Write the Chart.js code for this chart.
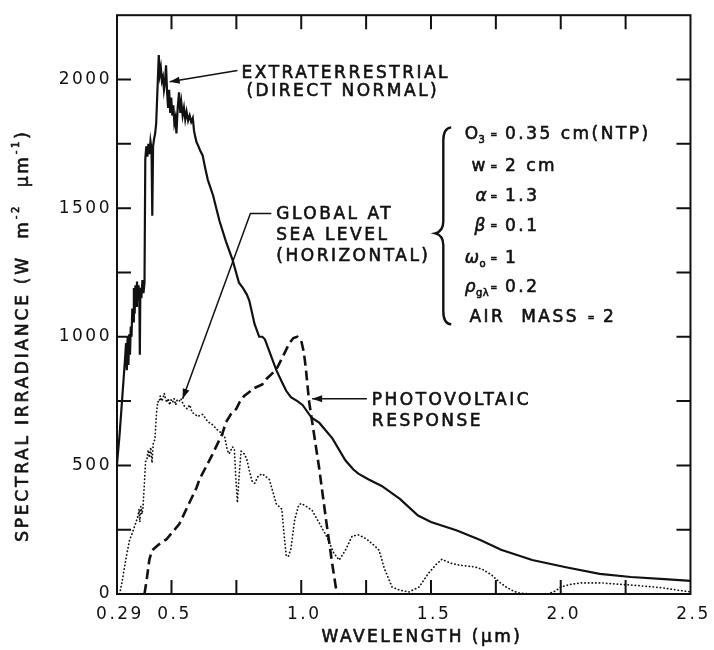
<!DOCTYPE html>
<html>
<head>
<meta charset="utf-8">
<script src="https://cdn.jsdelivr.net/npm/chart.js@4.4.0/dist/chart.umd.min.js"></script>
<style>
  html, body { margin: 0; padding: 0; background: #fff; }
  canvas { display: block; }
</style>
</head>
<body>
<canvas id="chart" width="714" height="650"></canvas>
<script>
// Extraterrestrial (direct normal), W m-2 um-1
const etWavelength = [
  0.290, 0.300, 0.310, 0.320, 0.325, 0.328, 0.331, 0.334, 0.337, 0.340, 0.343, 0.346, 0.349,
  0.352, 0.355, 0.358, 0.361, 0.364, 0.367, 0.370, 0.373, 0.376, 0.378, 0.380, 0.384, 0.388,
  0.392, 0.396, 0.399, 0.403, 0.407, 0.411, 0.415, 0.419, 0.423, 0.426, 0.429, 0.433, 0.437,
  0.441, 0.451, 0.455, 0.459, 0.463, 0.467, 0.471, 0.475, 0.479, 0.483, 0.487, 0.491, 0.495,
  0.499, 0.503, 0.507, 0.511, 0.515, 0.519, 0.524, 0.529, 0.534, 0.538, 0.543, 0.548, 0.553,
  0.558, 0.564, 0.570, 0.576, 0.582, 0.587, 0.592, 0.597, 0.602, 0.610, 0.620, 0.630, 0.640,
  0.660, 0.685, 0.710, 0.735, 0.760, 0.775, 0.790, 0.800, 0.820, 0.838, 0.850, 0.860, 0.880,
  0.904, 0.925, 0.942, 0.960, 0.985, 1.005, 1.040, 1.070, 1.120, 1.170, 1.200, 1.220, 1.260,
  1.310, 1.380, 1.450, 1.500, 1.600, 1.690, 1.770, 1.890, 2.020, 2.150, 2.270, 2.400, 2.500
];
const etIrradiance = [
  505, 620, 760, 900, 975, 870, 1000, 890, 1010, 930, 1040, 1000, 1110,
  1060, 1190, 1090, 1200, 1120, 1215, 1140, 1200, 1160, 930, 1190, 1150, 1220,
  1170, 1210, 1690, 1740, 1700, 1750, 1710, 1760, 1730, 1470, 1740, 1770, 1790,
  1830, 2095, 2020, 2045, 1995, 2010, 1960, 1990, 2055, 1950, 1890, 1960, 1870,
  1930, 1860, 1900, 1830, 1850, 1790, 1890, 1950, 1870, 1910, 1860, 1890, 1845,
  1875, 1840, 1860, 1835, 1850, 1800, 1775, 1755, 1745, 1725, 1705, 1655, 1610,
  1550, 1450, 1370, 1300, 1210, 1190, 1165, 1140, 1050, 1000, 1000, 990, 935,
  870, 825, 790, 765, 750, 735, 685, 665, 605, 520, 485, 468, 445,
  420, 370, 305, 280, 247, 210, 172, 132, 104, 78, 66, 58, 51
];

// Global at sea level (horizontal)
const globalWavelength = [
  0.300, 0.310, 0.325, 0.338, 0.350, 0.360, 0.370, 0.375, 0.378, 0.382, 0.386, 0.390, 0.395,
  0.400, 0.405, 0.410, 0.415, 0.420, 0.425, 0.430, 0.436, 0.442, 0.447, 0.452, 0.457, 0.462,
  0.467, 0.472, 0.477, 0.482, 0.487, 0.493, 0.498, 0.504, 0.510, 0.516, 0.522, 0.530, 0.536,
  0.542, 0.550, 0.560, 0.570, 0.580, 0.590, 0.600, 0.620, 0.640, 0.658, 0.675, 0.696, 0.705,
  0.715, 0.722, 0.735, 0.742, 0.748, 0.754, 0.760, 0.768, 0.780, 0.790, 0.800, 0.810, 0.820,
  0.835, 0.850, 0.865, 0.877, 0.890, 0.904, 0.915, 0.925, 0.935, 0.942, 0.950, 0.960, 0.975,
  0.990, 1.000, 1.020, 1.042, 1.070, 1.100, 1.125, 1.146, 1.170, 1.196, 1.220, 1.250, 1.280,
  1.300, 1.320, 1.350, 1.380, 1.415, 1.454, 1.490, 1.520, 1.542, 1.575, 1.610, 1.670, 1.700,
  1.735, 1.765, 1.790, 1.820, 1.840, 1.880, 1.950, 1.980, 2.000, 2.040, 2.080, 2.160, 2.220,
  2.270, 2.350, 2.400, 2.450, 2.500
];
const globalIrradiance = [
  0, 50, 140, 208, 240, 270, 300, 330, 280, 340, 310, 335, 420,
  515, 520, 560, 530, 570, 510, 590, 600, 700, 748, 745, 770, 750,
  760, 780, 760, 745, 760, 735, 755, 745, 760, 735, 755, 750, 760,
  745, 730, 720, 735, 705, 700, 690, 698, 670, 658, 640, 622, 610,
  560, 545, 572, 565, 450, 355, 450, 555, 545, 525, 480, 440, 430,
  460, 467, 455, 445, 400, 350, 340, 330, 220, 150, 145, 175, 290,
  345, 352, 340, 325, 275, 220, 160, 132, 170, 225, 230, 215, 190,
  170, 100, 27, 15, 8, 27, 80, 115, 135, 120, 112, 105, 95,
  73, 45, 27, 10, 4, 0, 0, 12, 27, 38, 43, 43, 38,
  35, 28, 23, 15, 8
];

// Photovoltaic response (peak scaled to 1000)
const pvWavelength = [
  0.396, 0.405, 0.415, 0.425, 0.442, 0.460, 0.480, 0.530, 0.596, 0.608, 0.658, 0.696, 0.710,
  0.730, 0.750, 0.762, 0.780, 0.800, 0.812, 0.850, 0.865, 0.904, 0.930, 0.954, 0.970, 0.985,
  1.000, 1.010, 1.018, 1.030, 1.042, 1.069, 1.096, 1.119, 1.135, 1.140
];
const pvResponse = [
  0, 60, 135, 170, 185, 200, 212, 272, 412, 446, 543, 623, 668,
  700, 720, 745, 770, 785, 797, 815, 835, 873, 925, 975, 995, 1000,
  985, 940, 875, 750, 670, 490, 285, 120, 15, 0
];

const xTickValues = [0.29, 0.5, 1.0, 1.5, 2.0, 2.5];
const xTickLabels = ['0.29', '0.5', '1.0', '1.5', '2.0', '2.5'];
const yTickValues = [0, 500, 1000, 1500, 2000];
const yTickLabels = ['0', '500', '1000', '1500', '2000'];
const xMarkValues = [0.5, 0.75, 1.0, 1.25, 1.5, 1.75, 2.0, 2.25];
const yMarkValues = [250, 500, 750, 1000, 1250, 1500, 1750, 2000];

const FONT = '"DejaVu Sans", sans-serif';
const INK = '#111';
const SPACING = '2.5px';

function pairs(xs, ys) {
  return xs.map((x, i) => ({ x, y: ys[i] }));
}

// draws a run of text parts: 'plain', ['3', 'sub'], ['-2', 'sup'], ['α', 'it']
function rich(ctx, x, y, parts, size, align, spacing) {
  const small = Math.round(size * 0.6);
  ctx.letterSpacing = spacing || SPACING;
  const segs = parts.map(p => {
    if (typeof p === 'string') return { t: p, f: `${size}px ${FONT}`, dy: 0 };
    if (p[1] === 'sub') return { t: p[0], f: `${small}px ${FONT}`, dy: size * 0.32 };
    if (p[1] === 'sup') return { t: p[0], f: `${small}px ${FONT}`, dy: -size * 0.42 };
    return { t: p[0], f: `italic ${size}px ${FONT}`, dy: 0 };
  });
  let w = 0;
  segs.forEach(s => { ctx.font = s.f; s.w = ctx.measureText(s.t).width; w += s.w; });
  let cx = align === 'center' ? x - w / 2 : align === 'right' ? x - w : x;
  ctx.textAlign = 'left';
  ctx.textBaseline = 'middle';
  ctx.lineWidth = 0.6;
  segs.forEach(s => {
    ctx.font = s.f;
    ctx.fillText(s.t, cx, y + s.dy);
    ctx.strokeText(s.t, cx, y + s.dy);
    cx += s.w;
  });
  ctx.letterSpacing = SPACING;
}

function arrowHead(ctx, from, tip) {
  const ang = Math.atan2(tip[1] - from[1], tip[0] - from[0]);
  const len = 10, half = 3.5;
  ctx.beginPath();
  ctx.moveTo(tip[0], tip[1]);
  ctx.lineTo(tip[0] - len * Math.cos(ang) + half * Math.sin(ang), tip[1] - len * Math.sin(ang) - half * Math.cos(ang));
  ctx.lineTo(tip[0] - len * Math.cos(ang) - half * Math.sin(ang), tip[1] - len * Math.sin(ang) + half * Math.cos(ang));
  ctx.closePath();
  ctx.fill();
}

const spacingPlugin = {
  id: 'spacing',
  beforeDraw(chart) { chart.ctx.letterSpacing = SPACING; }
};

const notesPlugin = {
  id: 'notes',
  afterDraw(chart) {
    const { ctx, chartArea: a, scales: { x, y } } = chart;
    const P = (vx, vy) => [x.getPixelForValue(vx), y.getPixelForValue(vy)];
    ctx.save();
    ctx.strokeStyle = INK;
    ctx.fillStyle = INK;

    // frame and inward ticks on all four sides
    ctx.lineWidth = 2;
    ctx.strokeRect(a.left, a.top, a.width, a.height);
    const T = 14;
    ctx.beginPath();
    xMarkValues.forEach(v => {
      const px = x.getPixelForValue(v);
      ctx.moveTo(px, a.bottom); ctx.lineTo(px, a.bottom - T);
      ctx.moveTo(px, a.top); ctx.lineTo(px, a.top + T);
    });
    yMarkValues.forEach(v => {
      const py = y.getPixelForValue(v);
      ctx.moveTo(a.left, py); ctx.lineTo(a.left + T, py);
      ctx.moveTo(a.right, py); ctx.lineTo(a.right - T, py);
    });
    ctx.stroke();

    // axis titles
    rich(ctx, a.left + 305, 638, ['WAVELENGTH (μm)'], 17, 'center');
    ctx.save();
    ctx.translate(a.left - 93, (a.top + a.bottom) / 2 + 31);
    ctx.rotate(-Math.PI / 2);
    rich(ctx, 0, 0, ['SPECTRAL IRRADIANCE (W  m', ['-2', 'sup'], '  μm', ['-1', 'sup'], ')'], 17, 'center', '2.8px');
    ctx.restore();

    // callouts
    let p = P(0.770, 2025);
    rich(ctx, p[0], p[1], ['EXTRATERRESTRIAL'], 17, 'left');
    p = P(0.789, 1953);
    rich(ctx, p[0], p[1], ['(DIRECT NORMAL)'], 17, 'left');
    ctx.lineWidth = 1.5;
    let from = P(0.754, 2035), tip = P(0.493, 1991);
    ctx.beginPath(); ctx.moveTo(from[0], from[1]); ctx.lineTo(tip[0], tip[1]); ctx.stroke();
    arrowHead(ctx, from, tip);

    p = P(0.904, 1475);
    rich(ctx, p[0], p[1], ['GLOBAL AT'], 17, 'left');
    p = P(0.904, 1394);
    rich(ctx, p[0], p[1], ['SEA LEVEL'], 17, 'left');
    p = P(0.904, 1312);
    rich(ctx, p[0], p[1], ['(HORIZONTAL)'], 17, 'left');
    const g0 = P(0.885, 1479), g1 = P(0.804, 1479);
    tip = P(0.543, 759);
    ctx.lineWidth = 1.5;
    ctx.beginPath(); ctx.moveTo(g0[0], g0[1]); ctx.lineTo(g1[0], g1[1]); ctx.lineTo(tip[0], tip[1]); ctx.stroke();
    arrowHead(ctx, g1, tip);

    p = P(1.272, 751);
    rich(ctx, p[0], p[1], ['PHOTOVOLTAIC'], 17, 'left');
    p = P(1.272, 670);
    rich(ctx, p[0], p[1], ['RESPONSE'], 17, 'left');
    ctx.lineWidth = 1.5;
    from = P(1.253, 759); tip = P(1.042, 759);
    ctx.beginPath(); ctx.moveTo(from[0], from[1]); ctx.lineTo(tip[0], tip[1]); ctx.stroke();
    arrowHead(ctx, from, tip);

    // parameter list with brace
    const eqX = x.getPixelForValue(1.742);
    const rhsX = x.getPixelForValue(1.785);
    const params = [
      { lhs: ['O', ['3', 'sub']], rhs: '0.35 cm(NTP)', v: 1784, at: 1.630 },
      { lhs: ['w'], rhs: '2 cm', v: 1660, at: 1.656 },
      { lhs: [['α', 'it']], rhs: '1.3', v: 1545, at: 1.672 },
      { lhs: [['β', 'it']], rhs: '0.1', v: 1429, at: 1.668 },
      { lhs: [['ω', 'it'], ['o', 'sub']], rhs: '1', v: 1302, at: 1.630 },
      { lhs: [['ρ', 'it'], ['gλ', 'sub']], rhs: '0.2', v: 1190, at: 1.630 }
    ];
    params.forEach(r => {
      const q = P(r.at, r.v);
      rich(ctx, q[0], q[1], r.lhs, 17, 'left', '0.5px');
      rich(ctx, eqX, q[1], ['='], 8, 'center', '0px');
      rich(ctx, rhsX, q[1], [r.rhs], 17, 'left', '2.5px');
    });
    p = P(1.648, 1075);
    rich(ctx, p[0], p[1], ['AIR  MASS'], 17, 'left', '2.5px');
    p = P(2.117, 1075);
    rich(ctx, p[0], p[1], ['='], 8, 'center', '0px');
    p = P(2.163, 1075);
    rich(ctx, p[0], p[1], ['2'], 17, 'left');

    const bt = P(1.578, 1814), bm = P(1.517, 1402), bb = P(1.578, 1048);
    const sx = (bt[0] + bm[0]) / 2;
    ctx.lineWidth = 2.4;
    ctx.beginPath();
    ctx.moveTo(bt[0], bt[1]);
    ctx.quadraticCurveTo(sx, bt[1] + 1, sx, bt[1] + 13);
    ctx.lineTo(sx, bm[1] - 12);
    ctx.quadraticCurveTo(sx, bm[1] - 2, bm[0], bm[1]);
    ctx.quadraticCurveTo(sx, bm[1] + 2, sx, bm[1] + 12);
    ctx.lineTo(sx, bb[1] - 13);
    ctx.quadraticCurveTo(sx, bb[1] - 1, bb[0], bb[1]);
    ctx.stroke();

    ctx.restore();
  }
};

new Chart(document.getElementById('chart'), {
  type: 'line',
  data: {
    datasets: [
      {
        label: 'Extraterrestrial (direct normal)',
        data: pairs(etWavelength, etIrradiance),
        borderColor: INK,
        borderWidth: 2.2,
        pointRadius: 0,
        tension: 0
      },
      {
        label: 'Global at sea level (horizontal)',
        data: pairs(globalWavelength, globalIrradiance),
        borderColor: INK,
        borderWidth: 1.7,
        borderDash: [0.3, 3.3],
        borderCapStyle: 'round',
        pointRadius: 0,
        tension: 0
      },
      {
        label: 'Photovoltaic response',
        data: pairs(pvWavelength, pvResponse),
        borderColor: INK,
        borderWidth: 2.6,
        borderDash: [10, 5],
        pointRadius: 0,
        tension: 0
      }
    ]
  },
  options: {
    responsive: false,
    animation: false,
    devicePixelRatio: 1,
    layout: { padding: { top: 10, right: 21, left: 0, bottom: 0 } },
    plugins: { legend: { display: false }, tooltip: { enabled: false } },
    scales: {
      x: {
        type: 'linear',
        min: 0.29,
        max: 2.5,
        grid: { display: false, drawTicks: false },
        border: { display: false },
        afterBuildTicks: (s) => { s.ticks = xTickValues.map(v => ({ value: v })); },
        afterFit: (s) => { s.height = 56; },
        ticks: {
          autoSkip: false,
          maxRotation: 0,
          minRotation: 0,
          padding: 10,
          labelOffset: 3,
          color: INK,
          font: { family: FONT, size: 17 },
          callback: (v, i) => xTickLabels[i]
        }
      },
      y: {
        type: 'linear',
        min: 0,
        max: 2250,
        grid: { display: false, drawTicks: false },
        border: { display: false },
        afterBuildTicks: (s) => { s.ticks = yTickValues.map(v => ({ value: v })); },
        afterFit: (s) => { s.width = 117; },
        ticks: {
          padding: 5,
          color: INK,
          font: { family: FONT, size: 17 },
          callback: (v, i) => yTickLabels[i]
        }
      }
    }
  },
  plugins: [spacingPlugin, notesPlugin]
});
</script>
</body>
</html>
